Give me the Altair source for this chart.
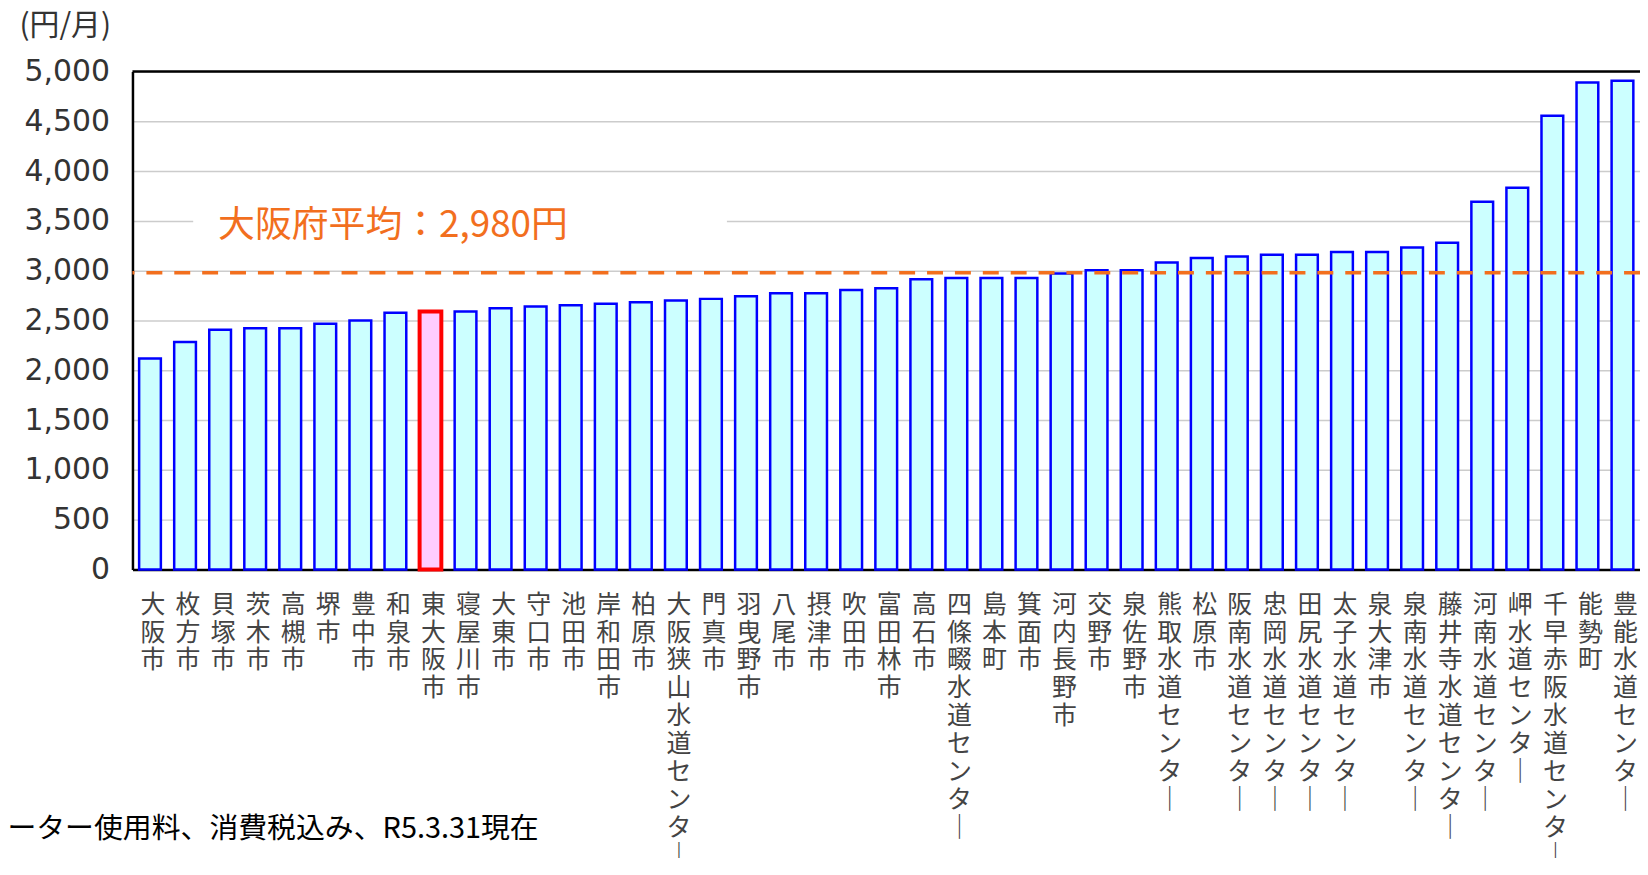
import altair as alt
import pandas as pd

names = ["大阪市", "枚方市", "貝塚市", "茨木市", "高槻市", "堺市", "豊中市", "和泉市", "東大阪市", "寝屋川市",
         "大東市", "守口市", "池田市", "岸和田市", "柏原市", "大阪狭山水道センター", "門真市", "羽曳野市", "八尾市", "摂津市",
         "吹田市", "富田林市", "高石市", "四條畷水道センター", "島本町", "箕面市", "河内長野市", "交野市", "泉佐野市", "熊取水道センター",
         "松原市", "阪南水道センター", "忠岡水道センター", "田尻水道センター", "太子水道センター", "泉大津市", "泉南水道センター",
         "藤井寺水道センター", "河南水道センター", "岬水道センター", "千早赤阪水道センター", "能勢町", "豊能水道センター"]
values = [2117, 2283, 2407, 2423, 2423, 2467, 2500, 2577, 2590, 2590,
          2623, 2640, 2653, 2667, 2683, 2700, 2717, 2743, 2773, 2773,
          2807, 2823, 2913, 2927, 2927, 2927, 2973, 3005, 3005, 3083,
          3127, 3143, 3160, 3160, 3187, 3187, 3233,
          3280, 3693, 3833, 4557, 4890, 4907]
highlight = "東大阪市"
average = 2980
avg_label = "大阪府平均：2,980円"
unit_label = "(円/月)"
caption = "ーター使用料、消費税込み、R5.3.31現在"
y_ticks = list(range(0, 5001, 500))

ORANGE = "#F26F1E"
JP = "Noto Sans CJK JP"

df = pd.DataFrame({"name": names, "value": values})

is_hl = alt.datum.name == highlight

bars = alt.Chart(df).mark_bar().encode(
    x=alt.X("name:N", sort=None,
            scale=alt.Scale(paddingInner=0.38, paddingOuter=0.19),
            axis=alt.Axis(title=None, labelAngle=0,
                          labelExpr="split(replace(datum.label, 'ー', '｜'), '')",
                          labelFont=JP, labelFontSize=25, labelLineHeight=28,
                          labelColor="#444", labelPadding=23, labelBaseline="top",
                          labelOverlap=False, labelOffset=3, labelLimit=0,
                          ticks=False, domainColor="black", domainWidth=2.5)),
    y=alt.Y("value:Q",
            scale=alt.Scale(domain=[0, 5000], nice=False),
            axis=alt.Axis(values=y_ticks, format=",d", title=unit_label,
                          titleAngle=0, titleAlign="right", titleBaseline="middle",
                          titleX=-22, titleY=-46, titleFont=JP, titleFontSize=30,
                          titleFontWeight="normal", titleColor="#333",
                          labelFont="DejaVu Sans", labelFontSize=30, labelColor="#333",
                          labelPadding=23, ticks=False,
                          domainColor="black", domainWidth=2.5,
                          grid=True, gridColor="#CCCCCC", gridWidth=1.5)),
    fill=alt.condition(is_hl, alt.value("#FFCCFF"), alt.value("#CCFFFF")),
    stroke=alt.condition(is_hl, alt.value("#FF0000"), alt.value("#0000FF")),
    strokeWidth=alt.condition(is_hl, alt.value(4), alt.value(2.5)),
)

top_rule = alt.Chart(pd.DataFrame({"v": [5000]})).mark_rule(color="black", strokeWidth=2.5).encode(
    y=alt.Y("v:Q"))

avg_rule = alt.Chart(pd.DataFrame({"v": [average]})).mark_rule(
    color=ORANGE, strokeWidth=3.5, strokeDash=[16, 12]).encode(y=alt.Y("v:Q"))

label_bg = alt.Chart(pd.DataFrame({"t": [avg_label]})).mark_rect(fill="white").encode(
    x=alt.value(61), x2=alt.value(597), y=alt.value(135), y2=alt.value(165))

avg_text = alt.Chart(pd.DataFrame({"t": [avg_label]})).mark_text(
    align="left", baseline="middle", font=JP, fontSize=37, color=ORANGE).encode(
    text="t:N", x=alt.value(86), y=alt.value(155))

cap_text = alt.Chart(pd.DataFrame({"t": [caption]})).mark_text(
    align="right", baseline="middle", font=JP, fontSize=29, color="black").encode(
    text="t:N", x=alt.value(408), y=alt.value(761))

chart = alt.layer(label_bg, bars, top_rule, avg_rule, avg_text, cap_text).properties(
    width=1514, height=500,
    padding={"left": 125, "top": 62, "right": 0, "bottom": 288},
    autosize=alt.AutoSizeParams(type="none"),
).configure_view(stroke=None)

chart.save("out.html", embed_options={"renderer": "svg", "actions": False})
